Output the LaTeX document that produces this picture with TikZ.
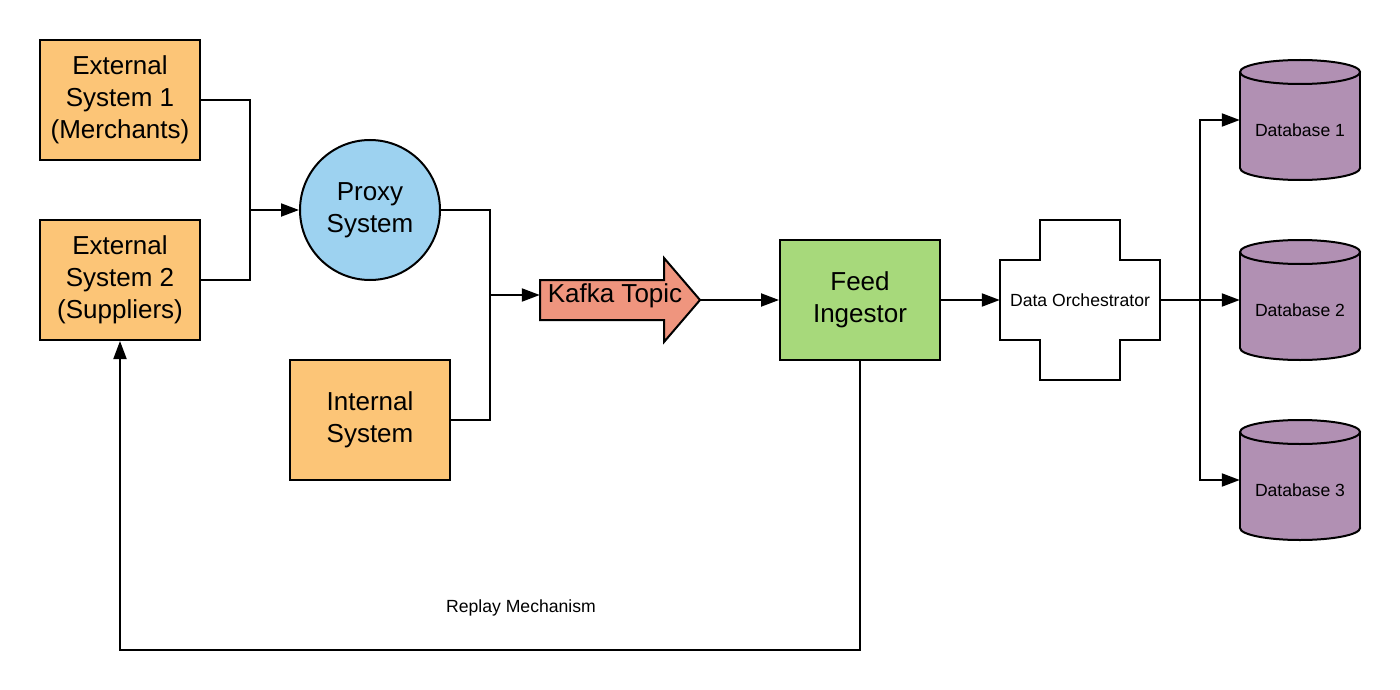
\documentclass[tikz,border=0pt]{standalone}
\usepackage{fontspec}
\setmainfont{Liberation Sans}
\usetikzlibrary{arrows.meta}
\definecolor{sysorange}{HTML}{FCC577}
\definecolor{proxyblue}{HTML}{9DD2F0}
\definecolor{kafkasalmon}{HTML}{EF957E}
\definecolor{feedgreen}{HTML}{A7D97B}
\definecolor{dbpurple}{HTML}{B190B3}
\tikzset{
  bigtext/.style={font=\fontsize{26}{32}\selectfont},
  smalltext/.style={font=\fontsize{17.6}{20}\selectfont},
  sysbox/.style={draw, line width=2pt, minimum width=160pt, minimum height=120pt, align=center, inner sep=0pt, bigtext},
  hidden/.style={inner sep=0pt, align=center},
  link/.style={line width=2pt},
  conn/.style={line width=2pt, -{Triangle[length=18pt,width=13pt]}},
  outline/.style={line width=2pt, draw=black}
}
\begin{document}
\begin{tikzpicture}[x=1pt,y=-1pt]
\useasboundingbox (0,0) rectangle (1400,690);
\fill[white] (0,0) rectangle (1400,690);

% external systems
\node[sysbox, fill=sysorange] (ext1) at (120,100) {External\\System 1\\(Merchants)};
\node[sysbox, fill=sysorange] (ext2) at (120,280) {External\\System 2\\(Suppliers)};
\node[sysbox, fill=sysorange] (internal) at (370,420) {Internal\\System};

% proxy
\node[draw, circle, line width=2pt, fill=proxyblue, minimum size=140pt, inner sep=0pt, align=center, bigtext] (proxy) at (370,210) {Proxy\\System};

% kafka arrow
\path[outline, fill=kafkasalmon] (540,280) -- (664,280) -- (664,258) -- (700,300) -- (664,342) -- (664,320) -- (540,320) -- cycle;
\node[hidden, minimum width=160pt, minimum height=80pt] (kafka) at (620,300) {};
\node[hidden, bigtext] (kafkalabel) at (615,296) {Kafka Topic};

% feed ingestor
\node[sysbox, fill=feedgreen] (feed) at (860,300) {Feed\\Ingestor};

% data orchestrator cross
\path[outline, fill=white] (1040,220) -- (1120,220) -- (1120,260) -- (1160,260) -- (1160,340) -- (1120,340) -- (1120,380) -- (1040,380) -- (1040,340) -- (1000,340) -- (1000,260) -- (1040,260) -- cycle;
\node[hidden, minimum width=160pt, minimum height=80pt, smalltext] (orch) at (1080,300) {Data Orchestrator};

% databases
\foreach \cy/\nm/\lbl in {120/db1/Database 1, 300/db2/Database 2, 480/db3/Database 3}{
  \path[outline, fill=dbpurple] (1300,\cy+48) ellipse [x radius=60pt, y radius=12pt];
  \fill[dbpurple] (1240,\cy-48) rectangle (1360,\cy+48);
  \draw[line width=2pt] (1240,\cy-48) -- (1240,\cy+48);
  \draw[line width=2pt] (1360,\cy-48) -- (1360,\cy+48);
  \path[outline, fill=dbpurple] (1300,\cy-48) ellipse [x radius=60pt, y radius=12pt];
  \node[hidden, minimum width=120pt, minimum height=120pt, smalltext] (\nm) at (1300,\cy) {};
  \node[hidden, smalltext] (\nm label) at (1300,\cy+10) {\lbl};
}

% junctions
\coordinate (j1) at (250,210);
\coordinate (j2) at (490,295);
\coordinate (j3) at (1200,300);
\coordinate (r1) at (860,650);
\coordinate (r2) at (120,650);

% connectors
\draw[link] (ext1.east) -| (j1);
\draw[link] (ext2.east) -| (j1);
\draw[conn] (j1) -- (proxy.west);
\draw[link] (proxy.east) -| (j2);
\draw[link] (internal.east) -| (j2);
\draw[conn] (j2) -- (j2 -| kafka.west);
\draw[conn] (kafka.east) -- (feed.west);
\draw[conn] (feed.east) -- (orch.west);
\draw[link] (orch.east) -- (j3);
\draw[conn] (j3) |- (db1.west);
\draw[conn] (j3) -- (db2.west);
\draw[conn] (j3) |- (db3.west);
\draw[conn] (feed.south) -- (r1) -- (r2) -- (ext2.south);

\node[hidden, smalltext] (replay) at (521,608) {Replay Mechanism};
\end{tikzpicture}
\end{document}
